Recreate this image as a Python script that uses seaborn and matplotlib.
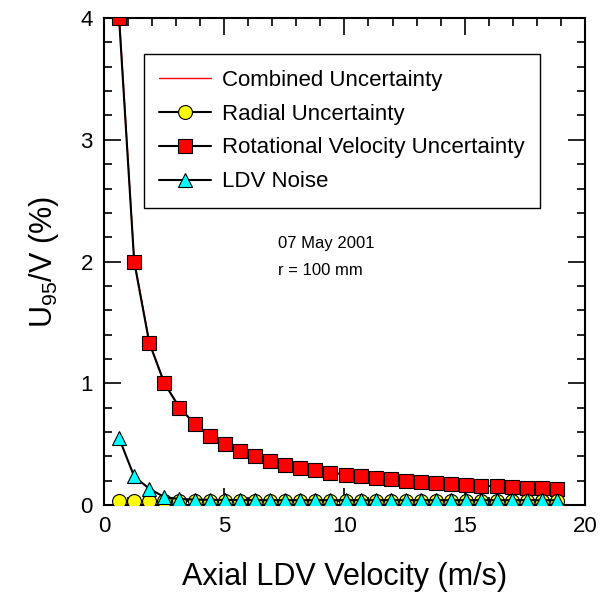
import matplotlib
matplotlib.use("Agg")
import matplotlib.pyplot as plt
import seaborn as sns
import numpy as np

velocity = [0.628, 1.256, 1.884, 2.512, 3.14, 3.768, 4.396, 5.024, 5.652, 6.28,
            6.908, 7.536, 8.164, 8.792, 9.42, 10.048, 10.676, 11.304, 11.932, 12.56,
            13.188, 13.816, 14.444, 15.072, 15.7, 16.328, 16.956, 17.584, 18.212, 18.84]
rotational = [4.0, 2.0, 1.333, 1.0, 0.8, 0.667, 0.571, 0.5, 0.444, 0.4,
              0.364, 0.333, 0.308, 0.286, 0.267, 0.25, 0.235, 0.222, 0.211, 0.2,
              0.19, 0.182, 0.174, 0.167, 0.16, 0.154, 0.148, 0.143, 0.138, 0.133]
combined = [4.04, 2.015, 1.342, 1.004, 0.803, 0.669, 0.573, 0.502, 0.446, 0.402,
            0.366, 0.335, 0.31, 0.288, 0.269, 0.252, 0.237, 0.224, 0.213, 0.202,
            0.193, 0.185, 0.177, 0.17, 0.163, 0.157, 0.151, 0.146, 0.141, 0.136]
radial = [0.035] * 30
ldv_noise = [0.55, 0.235, 0.135, 0.065, 0.05, 0.045, 0.043, 0.042, 0.041, 0.04,
             0.04, 0.04, 0.04, 0.04, 0.04, 0.04, 0.04, 0.04, 0.04, 0.04,
             0.04, 0.04, 0.04, 0.04, 0.04, 0.04, 0.04, 0.04, 0.04, 0.04]
labels = ["Combined Uncertainty", "Radial Uncertainty",
          "Rotational Velocity Uncertainty", "LDV Noise"]

sns.set_style("ticks")
plt.rcParams["font.family"] = ["Liberation Sans", "DejaVu Sans"]
plt.rcParams["mathtext.fontset"] = "custom"
plt.rcParams["mathtext.rm"] = "Liberation Sans"
plt.rcParams["mathtext.it"] = "Liberation Sans"
for k in ["text.color", "axes.labelcolor", "xtick.color", "ytick.color"]:
    plt.rcParams[k] = "black"

fig = plt.figure(figsize=(6.08, 6.02), dpi=100)
ax = fig.add_axes([0.171, 0.161, 0.791, 0.809])

sns.lineplot(x=velocity, y=combined, color="red", lw=1.0, ax=ax, label=labels[0], zorder=2)
sns.lineplot(x=velocity, y=rotational, color="black", lw=1.5, marker="s", markersize=10,
             markerfacecolor="red", markeredgecolor="black", markeredgewidth=0.8,
             ax=ax, label=labels[2], zorder=3)
sns.lineplot(x=velocity, y=radial, color="black", lw=1.5, marker="o", markersize=10,
             markerfacecolor="yellow", markeredgecolor="black", markeredgewidth=0.8,
             ax=ax, label=labels[1], zorder=3)
sns.lineplot(x=velocity, y=ldv_noise, color="black", lw=1.5, marker="^", markersize=10,
             markerfacecolor="cyan", markeredgecolor="black", markeredgewidth=0.8,
             ax=ax, label=labels[3], zorder=4)

ax.set_xlim(0, 20)
ax.set_ylim(0, 4)
ax.set_xticks([0, 5, 10, 15, 20])
ax.set_yticks([0, 1, 2, 3, 4])
ax.set_xticks(np.arange(0, 21, 1), minor=True)
ax.set_yticks(np.arange(0, 4.01, 0.2), minor=True)
ax.tick_params(which="both", direction="in", top=True, right=True, width=1.2,
               labelsize=16, colors="black")
ax.tick_params(which="major", length=12, pad=8)
ax.tick_params(which="minor", length=6)
for s in ax.spines.values():
    s.set_linewidth(1.5)
    s.set_color("black")

ax.set_xlabel("Axial LDV Velocity (m/s)", fontsize=22, labelpad=18)
ax.set_ylabel(r"U$_{95}$/V (%)", fontsize=22, labelpad=14)

ax.text(7.23, 2.15, "07 May 2001", fontsize=12, va="center", ha="left")
ax.text(7.23, 1.93, "r = 100 mm", fontsize=12, va="center", ha="left")

handles, lbls = ax.get_legend_handles_labels()
order = [lbls.index(l) for l in labels]
leg = ax.legend([handles[i] for i in order], [lbls[i] for i in order],
                loc="upper left", bbox_to_anchor=(0.083, 0.926), fontsize=16,
                frameon=True, fancybox=False, edgecolor="black", framealpha=1,
                handlelength=2.3, labelspacing=0.58, borderpad=0.7, handletextpad=0.5,
                borderaxespad=0)
leg.get_frame().set_linewidth(1.0)

fig.savefig("out.png", dpi=100)
